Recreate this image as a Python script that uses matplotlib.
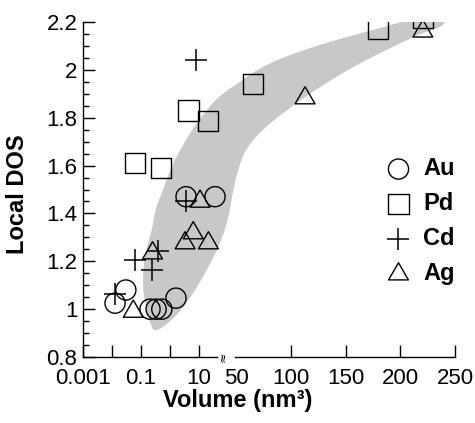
import matplotlib
matplotlib.use("Agg")
import matplotlib.pyplot as plt
import numpy as np
from matplotlib.path import Path
from matplotlib.ticker import FixedLocator, MultipleLocator, NullLocator

plt.rcParams['font.family'] = ['Liberation Sans', 'DejaVu Sans']

# local DOS vs cluster volume (nm^3) for each metal
au_vol = [3.56, 35.5, 0.030, 0.0127, 0.204, 0.33, 0.52, 1.6]
au_dos = [1.47, 1.47, 1.08, 1.025, 1.0, 1.0, 1.0, 1.046]
pd_vol = [0.064, 0.49, 4.3, 21, 65.8, 180, 221]
pd_dos = [1.61, 1.59, 1.83, 1.785, 1.94, 2.17, 2.215]
cd_vol = [7.9, 3.56, 0.39, 0.062, 0.23, 0.0127]
cd_dos = [2.04, 1.45, 1.245, 1.205, 1.165, 1.063]
ag_vol = [0.054, 10.8, 6.3, 3.3, 21, 0.25, 113, 220.6]
ag_dos = [0.99, 1.45, 1.318, 1.276, 1.276, 1.234, 1.882, 2.161]

# outline of the shaded trend band (volume, DOS), walked round once
band_vol = [0.239, 0.149, 0.117, 0.117, 0.149, 0.239, 0.304, 0.574, 1.0, 2.21,
            5.74, 13.7, 40.3, 53.7, 71.9, 99.4, 135.9, 172.5, 209, 231.9, 241,
            242, 236.5, 218.2, 188, 157, 126.8, 96.6, 73.8, 58.2, 51.8, 48.5,
            46.9, 44.4, 40.3, 17.4, 6.73, 2.21, 0.62, 0.304]
band_dos = [0.921, 0.997, 1.080, 1.164, 1.248, 1.331, 1.415, 1.499, 1.582, 1.666,
            1.750, 1.813, 1.884, 1.951, 2.009, 2.064, 2.118, 2.164, 2.210, 2.239,
            2.231, 2.202, 2.177, 2.151, 2.085, 2.013, 1.930, 1.833, 1.750, 1.666,
            1.582, 1.499, 1.415, 1.331, 1.248, 1.156, 1.072, 0.988, 0.926, 0.909]

x_ticks = [0.001, 0.01, 0.1, 1, 10, 50, 100, 150, 200, 250]
x_labels = ['0.001', '', '0.1', '', '10', '50', '100', '150', '200', '250']

# broken x axis: log decades up to 40, then linear from 50
LOG_END, LIN_START = 40.0, 50.0
U_LOG_END = np.log10(LOG_END) + 3
U_LIN_START = 5.276
LIN_SCALE = 0.03772


def fwd(v):
    v = np.asarray(v, dtype=float)
    with np.errstate(all='ignore'):
        lg = np.log10(np.clip(v, 1e-9, None)) + 3
        gap = U_LOG_END + (v - LOG_END) / (LIN_START - LOG_END) * (U_LIN_START - U_LOG_END)
        lin = U_LIN_START + (v - LIN_START) * LIN_SCALE
    return np.where(v <= LOG_END, lg, np.where(v < LIN_START, gap, lin))


def inv(u):
    u = np.asarray(u, dtype=float)
    with np.errstate(all='ignore'):
        lg = 10 ** (np.clip(u, -20, 20) - 3)
        gap = LOG_END + (u - U_LOG_END) / (U_LIN_START - U_LOG_END) * (LIN_START - LOG_END)
        lin = LIN_START + (u - U_LIN_START) / LIN_SCALE
    return np.where(u <= U_LOG_END, lg, np.where(u < U_LIN_START, gap, lin))


def chaikin(pts, n=4):
    for _ in range(n):
        q = np.roll(pts, -1, axis=0)
        out = np.empty((2 * len(pts), 2))
        out[0::2] = 0.75 * pts + 0.25 * q
        out[1::2] = 0.25 * pts + 0.75 * q
        pts = out
    return pts


fig = plt.figure(figsize=(4.75, 4.23), dpi=100)
ax = fig.add_axes([83 / 475, 1 - 357 / 423, 372 / 475, 335 / 423])
ax.set_xscale('function', functions=(fwd, inv))
ax.set_xlim(0.001, 250)
ax.set_ylim(0.8, 2.2)

# shaded band, smoothed in scale space
outline = np.column_stack([fwd(band_vol), band_dos])
smooth = chaikin(outline, 4)
ax.fill(inv(smooth[:, 0]), smooth[:, 1], color='#c8c8c8', lw=0, zorder=0)

# equilateral triangle marker
tri = Path([(-1, -0.577), (1, -0.577), (0, 1.155), (-1, -0.577)],
           [Path.MOVETO, Path.LINETO, Path.LINETO, Path.CLOSEPOLY])

kw = dict(facecolors='none', edgecolors='black', linewidths=1.0, zorder=3)
ax.scatter(au_vol, au_dos, marker='o', s=14.5 ** 2, label='Au', **kw)
ax.scatter(pd_vol, pd_dos, marker='s', s=14.5 ** 2, label='Pd', **kw)
ax.scatter(cd_vol, cd_dos, marker='+', s=15.5 ** 2, label='Cd', c='black',
           linewidths=1.1, zorder=3)
ax.scatter(ag_vol, ag_dos, marker=tri, s=16.5 ** 2, label='Ag', **kw)

for side in ['top', 'right', 'bottom']:
    ax.spines[side].set_visible(False)
ax.spines['left'].set_linewidth(1.0)

# bottom axis drawn in two pieces with a break mark between them
ax.plot([0.001, 40.3], [0.8, 0.8], color='black', lw=1.0, clip_on=False, zorder=4)
ax.plot([49.5, 250], [0.8, 0.8], color='black', lw=1.0, clip_on=False, zorder=4)
ax.text(43.4, 0.8, '≈', rotation=90, ha='center', va='center', fontsize=9,
        family='DejaVu Sans')

ax.xaxis.set_major_locator(FixedLocator(x_ticks))
ax.xaxis.set_minor_locator(NullLocator())
ax.set_xticklabels(x_labels)
ax.yaxis.set_major_locator(MultipleLocator(0.2))
ax.yaxis.set_minor_locator(MultipleLocator(0.05))
ax.yaxis.set_major_formatter(plt.FuncFormatter(lambda v, p: '%g' % round(v, 2)))

ax.tick_params(axis='both', which='major', direction='in', length=8.5, width=1.0,
               labelsize=16, pad=4)
ax.tick_params(axis='x', which='major', pad=7.8)
ax.tick_params(axis='y', which='minor', direction='in', length=4.5, width=1.0)
ax.xaxis.get_major_ticks()[5].tick1line.set_visible(False)

fig.text(18 / 475, 1 - 194 / 423, 'Local DOS', rotation=90, ha='center', va='center',
         fontsize=17, fontweight='bold')
fig.text(238 / 475, 1 - 400 / 423, 'Volume (nm³)', ha='center', va='center',
         fontsize=17, fontweight='bold')

ax.legend(loc='center left', bbox_to_anchor=(0.81, 0.405), frameon=False,
          scatterpoints=1, handlelength=1.2, handletextpad=0.45, borderpad=0,
          borderaxespad=0, labelspacing=0.51, prop={'size': 17, 'weight': 'bold'})

fig.savefig('out.png', dpi=100)
